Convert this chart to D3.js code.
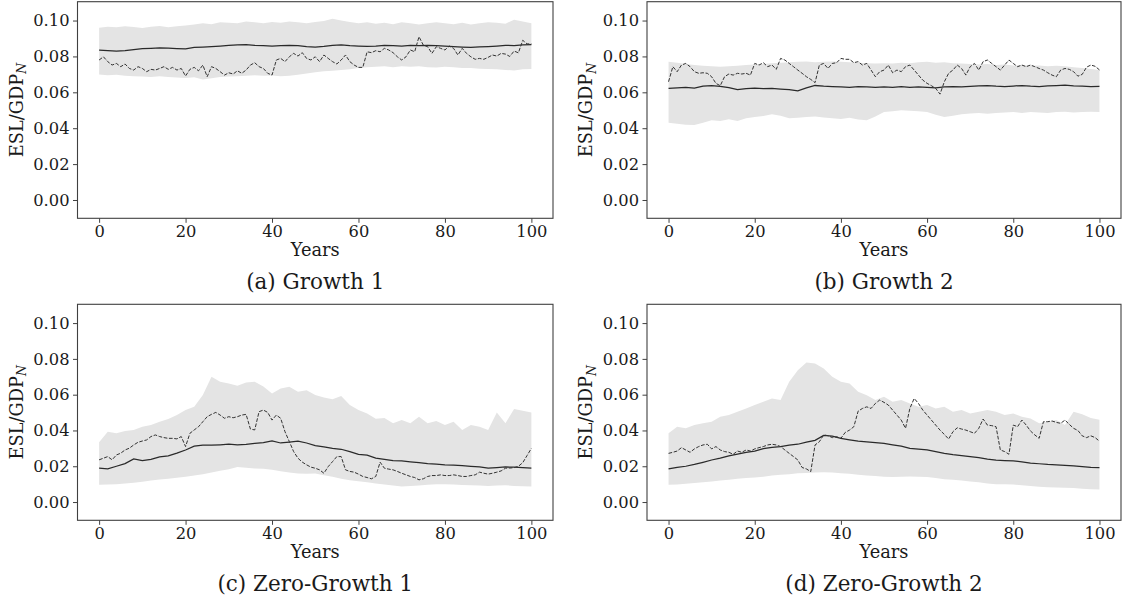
<!DOCTYPE html>
<html><head><meta charset="utf-8">
<script src="https://cdn.jsdelivr.net/npm/d3@7/dist/d3.min.js"></script>
<style>
html,body{margin:0;padding:0;background:#fff;}
svg text{font-family:"DejaVu Serif",serif;fill:#1a1a1a;}
</style></head>
<body><svg id="chart" width="1123" height="596"></svg>
<script>
// ---------- DATA ----------
const xTicks = [0, 20, 40, 60, 80, 100];
const yTicks = [0.00, 0.02, 0.04, 0.06, 0.08, 0.10];
const yLabel = "ESL/GDP";
const yLabelSub = "N";
const xLabel = "Years";
const captions = ["(a) Growth 1", "(b) Growth 2", "(c) Zero-Growth 1", "(d) Zero-Growth 2"];

// yearly sample path (dashed), years 0..100
const pathA = [0.0780,0.0798,0.0771,0.0752,0.0761,0.0743,0.0758,0.0733,0.0724,0.0743,
 0.0733,0.0715,0.0728,0.0724,0.0733,0.0743,0.0728,0.0739,0.0724,0.0733,
 0.0691,0.0728,0.0739,0.0720,0.0752,0.0687,0.0743,0.0733,0.0715,0.0696,
 0.0709,0.0702,0.0720,0.0706,0.0724,0.0752,0.0765,0.0743,0.0733,0.0706,
 0.0696,0.0780,0.0789,0.0771,0.0798,0.0817,0.0802,0.0821,0.0789,0.0780,
 0.0798,0.0771,0.0808,0.0789,0.0771,0.0758,0.0780,0.0808,0.0771,0.0752,
 0.0739,0.0739,0.0826,0.0821,0.0832,0.0826,0.0845,0.0836,0.0821,0.0798,
 0.0780,0.0798,0.0836,0.0826,0.0910,0.0863,0.0854,0.0817,0.0854,0.0845,
 0.0836,0.0858,0.0845,0.0808,0.0845,0.0817,0.0798,0.0784,0.0789,0.0784,
 0.0795,0.0808,0.0802,0.0817,0.0813,0.0800,0.0830,0.0820,0.0890,0.0870,0.0870];
const pathB = [0.0659,0.0743,0.0715,0.0752,0.0761,0.0743,0.0715,0.0706,0.0709,0.0706,
 0.0687,0.0650,0.0637,0.0687,0.0702,0.0696,0.0706,0.0702,0.0706,0.0696,
 0.0761,0.0752,0.0765,0.0743,0.0752,0.0728,0.0789,0.0780,0.0761,0.0743,
 0.0724,0.0706,0.0687,0.0672,0.0654,0.0752,0.0761,0.0733,0.0761,0.0765,
 0.0789,0.0784,0.0784,0.0765,0.0771,0.0752,0.0761,0.0724,0.0687,0.0715,
 0.0724,0.0752,0.0709,0.0724,0.0715,0.0743,0.0752,0.0724,0.0696,0.0668,
 0.0650,0.0637,0.0622,0.0590,0.0659,0.0706,0.0724,0.0752,0.0733,0.0696,
 0.0743,0.0761,0.0724,0.0771,0.0780,0.0761,0.0743,0.0724,0.0752,0.0780,
 0.0761,0.0743,0.0752,0.0743,0.0752,0.0743,0.0733,0.0724,0.0709,0.0696,
 0.0687,0.0724,0.0733,0.0728,0.0715,0.0690,0.0700,0.0740,0.0752,0.0745,0.0725];
const pathC = [0.0236,0.0245,0.0254,0.0236,0.0263,0.0273,0.0291,0.0301,0.0319,0.0334,
 0.0341,0.0347,0.0366,0.0375,0.0366,0.0360,0.0356,0.0356,0.0353,0.0366,
 0.0310,0.0384,0.0403,0.0421,0.0449,0.0477,0.0490,0.0501,0.0486,0.0468,
 0.0477,0.0471,0.0477,0.0486,0.0490,0.0408,0.0403,0.0505,0.0514,0.0501,
 0.0458,0.0486,0.0468,0.0393,0.0338,0.0282,0.0245,0.0223,0.0208,0.0195,
 0.0189,0.0180,0.0161,0.0198,0.0226,0.0254,0.0254,0.0180,0.0171,0.0167,
 0.0156,0.0143,0.0137,0.0130,0.0143,0.0223,0.0189,0.0184,0.0180,0.0171,
 0.0161,0.0152,0.0143,0.0137,0.0124,0.0130,0.0143,0.0148,0.0148,0.0152,
 0.0148,0.0148,0.0152,0.0148,0.0143,0.0143,0.0148,0.0152,0.0167,0.0161,
 0.0156,0.0161,0.0167,0.0174,0.0189,0.0190,0.0192,0.0200,0.0220,0.0260,0.0300];
const pathD = [0.0272,0.0278,0.0285,0.0304,0.0291,0.0278,0.0297,0.0310,0.0319,0.0323,
 0.0297,0.0310,0.0291,0.0282,0.0278,0.0267,0.0285,0.0278,0.0291,0.0285,
 0.0297,0.0304,0.0310,0.0319,0.0323,0.0319,0.0310,0.0291,0.0272,0.0254,
 0.0235,0.0193,0.0185,0.0170,0.0319,0.0337,0.0375,0.0371,0.0360,0.0365,
 0.0356,0.0389,0.0402,0.0421,0.0508,0.0523,0.0532,0.0523,0.0551,0.0570,
 0.0557,0.0542,0.0514,0.0486,0.0458,0.0412,0.0523,0.0579,0.0551,0.0514,
 0.0486,0.0458,0.0430,0.0402,0.0378,0.0352,0.0393,0.0415,0.0408,0.0402,
 0.0393,0.0384,0.0412,0.0464,0.0430,0.0427,0.0421,0.0291,0.0282,0.0267,
 0.0430,0.0421,0.0458,0.0430,0.0397,0.0375,0.0356,0.0449,0.0449,0.0453,
 0.0445,0.0440,0.0458,0.0434,0.0412,0.0400,0.0370,0.0360,0.0370,0.0360,0.0340];

// every 2 years, 0..100: mean, band upper, band lower
const meanA = [0.0835,0.0833,0.0830,0.0832,0.0838,0.0843,0.0845,0.0848,0.0846,0.0844,0.0842,0.0850,0.0852,0.0855,0.0858,0.0862,0.0865,0.0866,0.0862,0.0860,0.0858,0.0860,0.0862,0.0860,0.0855,0.0852,0.0856,0.0862,0.0865,0.0860,0.0858,0.0856,0.0858,0.0862,0.0860,0.0858,0.0862,0.0860,0.0862,0.0860,0.0858,0.0855,0.0852,0.0850,0.0853,0.0855,0.0858,0.0862,0.0860,0.0865,0.0866];
const upA = [0.0960,0.0965,0.0962,0.0968,0.0964,0.0958,0.0966,0.0970,0.0962,0.0968,0.0972,0.0978,0.0985,0.0980,0.0990,0.0988,0.0985,0.0995,0.0990,0.0985,0.0992,0.0988,0.0995,0.0990,0.0985,0.0992,0.0998,0.1010,0.1000,0.0992,0.0985,0.0990,0.0982,0.0988,0.0980,0.0990,0.0985,0.0978,0.0985,0.0990,0.0985,0.0980,0.0988,0.0978,0.0985,0.0990,0.0988,0.0982,0.1005,0.0995,0.0985];
const loA = [0.0700,0.0695,0.0698,0.0692,0.0690,0.0688,0.0685,0.0690,0.0686,0.0682,0.0680,0.0684,0.0672,0.0678,0.0685,0.0688,0.0690,0.0692,0.0695,0.0692,0.0694,0.0690,0.0693,0.0698,0.0705,0.0712,0.0718,0.0720,0.0725,0.0728,0.0735,0.0740,0.0742,0.0745,0.0740,0.0745,0.0742,0.0745,0.0740,0.0738,0.0742,0.0740,0.0736,0.0735,0.0732,0.0730,0.0728,0.0725,0.0722,0.0728,0.0730];

const meanB = [0.0622,0.0625,0.0628,0.0624,0.0635,0.0638,0.0633,0.0626,0.0615,0.0620,0.0624,0.0620,0.0622,0.0618,0.0615,0.0608,0.0625,0.0638,0.0634,0.0632,0.0630,0.0628,0.0632,0.0630,0.0628,0.0630,0.0627,0.0632,0.0628,0.0630,0.0627,0.0625,0.0630,0.0632,0.0630,0.0633,0.0636,0.0638,0.0634,0.0632,0.0635,0.0638,0.0634,0.0632,0.0636,0.0638,0.0640,0.0636,0.0634,0.0632,0.0633];
const upB = [0.0770,0.0765,0.0758,0.0752,0.0748,0.0745,0.0742,0.0745,0.0748,0.0752,0.0755,0.0758,0.0762,0.0765,0.0768,0.0770,0.0772,0.0768,0.0770,0.0772,0.0770,0.0768,0.0765,0.0762,0.0760,0.0762,0.0760,0.0765,0.0762,0.0768,0.0770,0.0765,0.0768,0.0762,0.0760,0.0758,0.0755,0.0758,0.0752,0.0755,0.0750,0.0752,0.0748,0.0750,0.0745,0.0748,0.0745,0.0740,0.0735,0.0730,0.0725];
const loB = [0.0430,0.0425,0.0420,0.0418,0.0430,0.0445,0.0440,0.0450,0.0440,0.0455,0.0462,0.0468,0.0478,0.0470,0.0455,0.0458,0.0462,0.0465,0.0460,0.0455,0.0452,0.0458,0.0448,0.0445,0.0465,0.0490,0.0495,0.0500,0.0498,0.0495,0.0490,0.0475,0.0462,0.0470,0.0478,0.0482,0.0485,0.0480,0.0485,0.0488,0.0490,0.0485,0.0490,0.0488,0.0485,0.0490,0.0492,0.0488,0.0490,0.0492,0.0490];

const meanC = [0.0189,0.0186,0.0200,0.0215,0.0241,0.0232,0.0238,0.0252,0.0258,0.0273,0.0291,0.0312,0.0318,0.0318,0.0320,0.0323,0.0320,0.0322,0.0328,0.0332,0.0342,0.0330,0.0335,0.0340,0.0330,0.0315,0.0308,0.0300,0.0295,0.0282,0.0267,0.0262,0.0245,0.0238,0.0232,0.0230,0.0225,0.0220,0.0215,0.0212,0.0208,0.0206,0.0203,0.0200,0.0196,0.0189,0.0192,0.0196,0.0195,0.0192,0.0190];
const upC = [0.0334,0.0393,0.0384,0.0397,0.0403,0.0421,0.0431,0.0449,0.0464,0.0486,0.0514,0.0533,0.0598,0.0700,0.0672,0.0662,0.0650,0.0668,0.0672,0.0645,0.0607,0.0635,0.0644,0.0617,0.0625,0.0598,0.0584,0.0575,0.0593,0.0542,0.0514,0.0495,0.0466,0.0470,0.0440,0.0458,0.0440,0.0477,0.0440,0.0453,0.0431,0.0449,0.0403,0.0431,0.0421,0.0403,0.0500,0.0440,0.0520,0.0510,0.0500];
const loC = [0.0096,0.0098,0.0100,0.0104,0.0108,0.0114,0.0120,0.0126,0.0130,0.0136,0.0142,0.0148,0.0155,0.0165,0.0175,0.0183,0.0196,0.0192,0.0188,0.0186,0.0180,0.0172,0.0165,0.0160,0.0158,0.0159,0.0150,0.0142,0.0130,0.0122,0.0116,0.0110,0.0104,0.0098,0.0092,0.0087,0.0090,0.0092,0.0096,0.0100,0.0100,0.0098,0.0095,0.0094,0.0092,0.0090,0.0092,0.0094,0.0090,0.0088,0.0087];

const meanD = [0.0185,0.0194,0.0200,0.0210,0.0222,0.0235,0.0245,0.0258,0.0268,0.0278,0.0285,0.0298,0.0306,0.0310,0.0318,0.0323,0.0335,0.0345,0.0372,0.0368,0.0356,0.0348,0.0340,0.0336,0.0332,0.0328,0.0320,0.0312,0.0300,0.0296,0.0291,0.0282,0.0272,0.0265,0.0260,0.0254,0.0248,0.0240,0.0234,0.0232,0.0230,0.0224,0.0218,0.0214,0.0210,0.0208,0.0205,0.0202,0.0198,0.0194,0.0192];
const upD = [0.0384,0.0421,0.0412,0.0430,0.0440,0.0449,0.0477,0.0486,0.0505,0.0523,0.0542,0.0560,0.0579,0.0570,0.0672,0.0737,0.0780,0.0774,0.0746,0.0700,0.0672,0.0663,0.0616,0.0597,0.0570,0.0588,0.0560,0.0570,0.0551,0.0533,0.0542,0.0523,0.0533,0.0505,0.0514,0.0495,0.0505,0.0514,0.0505,0.0486,0.0495,0.0477,0.0467,0.0440,0.0449,0.0458,0.0430,0.0505,0.0490,0.0470,0.0460];
const loD = [0.0096,0.0098,0.0102,0.0106,0.0110,0.0115,0.0120,0.0125,0.0130,0.0134,0.0137,0.0142,0.0148,0.0152,0.0156,0.0161,0.0163,0.0165,0.0167,0.0165,0.0161,0.0158,0.0152,0.0148,0.0145,0.0142,0.0140,0.0142,0.0143,0.0142,0.0140,0.0135,0.0128,0.0124,0.0120,0.0115,0.0110,0.0104,0.0100,0.0100,0.0098,0.0094,0.0090,0.0086,0.0083,0.0081,0.0080,0.0078,0.0075,0.0072,0.0070];

// ---------- DRAW ----------
const panels = [
  {path: pathA, mean: meanA, up: upA, lo: loA, cap: captions[0], x0: 77.5, x1: 553, y0: 1.7, y1: 218.3},
  {path: pathB, mean: meanB, up: upB, lo: loB, cap: captions[1], x0: 647, x1: 1121, y0: 1.7, y1: 218.3},
  {path: pathC, mean: meanC, up: upC, lo: loC, cap: captions[2], x0: 77.5, x1: 553, y0: 304.3, y1: 520.3},
  {path: pathD, mean: meanD, up: upD, lo: loD, cap: captions[3], x0: 647, x1: 1121, y0: 304.3, y1: 520.3}
];
const svg = d3.select("#chart");
const ink = "#1a1a1a";

panels.forEach(p => {
  const x = d3.scaleLinear().domain([-5, 105]).range([p.x0, p.x1]);
  const y = d3.scaleLinear().domain([-0.0102, 0.1105]).range([p.y1, p.y0]);
  const g = svg.append("g");

  const band = p.up.map((u, i) => ({t: i * 2, u: u, l: p.lo[i]}));
  g.append("path").datum(band)
    .attr("d", d3.area().x(d => x(d.t)).y0(d => y(d.l)).y1(d => y(d.u)))
    .attr("fill", "#e4e4e4").attr("stroke", "none");

  g.append("path").datum(p.mean.map((v, i) => [i * 2, v]))
    .attr("d", d3.line().x(d => x(d[0])).y(d => y(d[1])))
    .attr("fill", "none").attr("stroke", "#2a2a2a").attr("stroke-width", 1.25);

  g.append("path").datum(p.path.map((v, i) => [i, v]))
    .attr("d", d3.line().x(d => x(d[0])).y(d => y(d[1])))
    .attr("fill", "none").attr("stroke", "#333").attr("stroke-width", 1.0)
    .attr("stroke-dasharray", "3.7,1.6");

  // frame
  g.append("rect").attr("x", p.x0).attr("y", p.y0)
    .attr("width", p.x1 - p.x0).attr("height", p.y1 - p.y0)
    .attr("fill", "none").attr("stroke", "#404040").attr("stroke-width", 1.1);

  const xa = g.append("g").attr("transform", `translate(0,${p.y1})`)
    .call(d3.axisBottom(x).tickValues(xTicks).tickSize(4.5).tickPadding(3).tickFormat(d3.format("d")));
  const ya = g.append("g").attr("transform", `translate(${p.x0},0)`)
    .call(d3.axisLeft(y).tickValues(yTicks).tickSize(4.5).tickPadding(3.5).tickFormat(d3.format(".2f")));
  [xa, ya].forEach(a => {
    a.select(".domain").remove();
    a.selectAll(".tick line").attr("stroke", "#404040").attr("stroke-width", 1);
    a.selectAll(".tick text").attr("font-family", "DejaVu Serif").attr("font-size", 16.3).attr("fill", ink);
  });

  const cx = (p.x0 + p.x1) / 2;
  g.append("text").attr("x", cx).attr("y", p.y1 + 38).attr("text-anchor", "middle")
    .attr("font-size", 17.8).text(xLabel);
  g.append("text").attr("x", cx).attr("y", p.y1 + 70.5).attr("text-anchor", "middle")
    .attr("font-size", 21.5).text(p.cap);

  const yl = g.append("text")
    .attr("transform", `translate(${p.x0 - 55},${(p.y0 + p.y1) / 2}) rotate(-90)`)
    .attr("text-anchor", "middle").attr("font-size", 17.8);
  yl.append("tspan").text(yLabel);
  yl.append("tspan").attr("font-size", 12.5).attr("font-style", "italic").attr("dy", 3.5).text(yLabelSub);
});
</script>
</body></html>
